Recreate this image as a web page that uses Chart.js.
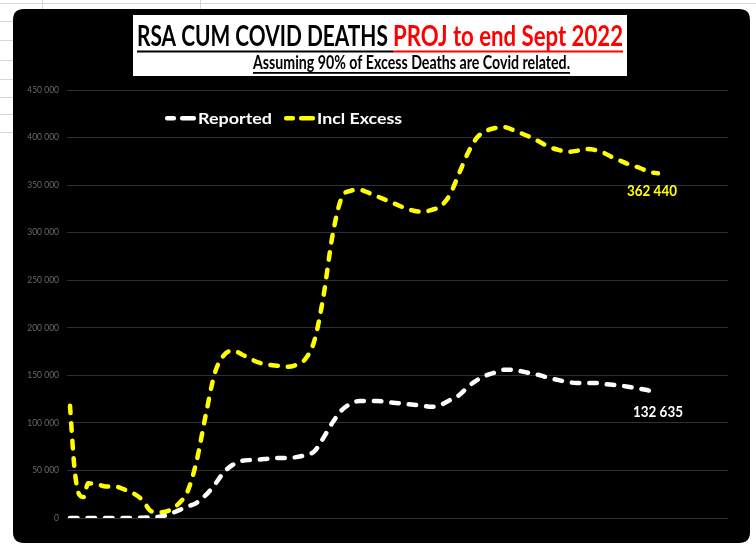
<!DOCTYPE html>
<html>
<head>
<meta charset="utf-8">
<style>
html,body{margin:0;padding:0;background:#fff;overflow:hidden}
canvas{display:block}
</style>
<script src="https://cdn.jsdelivr.net/npm/chart.js@4.4.1/dist/chart.umd.min.js"></script>
</head>
<body>
<div style="width:756px;height:545px;position:relative">
<canvas id="c" width="756" height="545"></canvas>
</div>
<script>
// ---- data (weeks since first point) ----
const weeks = [0,1,2,3,4,6,8,10,12,14,16,18,20,22,24,26,28,30,32,34,36,38,40,42,44,46,48,50,52,54,56,58,60,62,64,66,68,70,72,74,76,78,80,82,84,86,88,90,92,94,96,98,100,102,104,106,108,110,112,114,116,118,120,122,124,126,128,130];
const reported = [0,0,0,0,0,0,0,0,0,0,300,800,1500,4000,8000,12000,16000,24000,35000,48000,56000,60000,61000,61500,62500,63000,63000,64000,66000,70000,84000,100000,113000,120000,123000,123000,123000,122000,121000,120000,119000,118000,117000,119000,124000,129000,138000,145000,150000,153000,156000,156000,154000,152000,150000,147000,145000,143000,142000,142000,142000,141000,140000,139000,137500,136000,134000,132635];
const inclExcess = [118000,52000,25000,22000,36500,35500,33000,33000,30000,26000,19000,7000,6000,8000,15000,28000,60000,108000,152000,171000,176000,172000,167000,163000,161000,160000,159000,161000,167000,186000,232000,296000,336000,344000,345000,342000,338000,334000,330000,326000,323000,322000,324000,328000,340000,362000,384000,400000,407000,410000,411000,408000,404000,400000,395000,390000,387000,385000,386000,388000,387000,384000,379000,375000,371000,368000,364000,362440];
const yTicks = [0,50000,100000,150000,200000,250000,300000,350000,400000,450000];
const seriesNames = ['Reported','Incl Excess'];
const titleBlack = 'RSA CUM COVID DEATHS ';
const titleRed = 'PROJ to end Sept 2022';
const subtitle = 'Assuming 90% of Excess Deaths are Covid related.';

function fmt(v){ return String(Math.round(v)).replace(/\B(?=(\d{3})+(?!\d))/g,' '); }

function fitText(ctx, text, x, y, width, font, color){
  ctx.save();
  ctx.font = font;
  ctx.fillStyle = color;
  ctx.textAlign = 'left';
  ctx.textBaseline = 'alphabetic';
  const w = ctx.measureText(text).width;
  ctx.translate(x, y);
  ctx.scale(width / w, 1);
  ctx.fillText(text, 0, 0);
  ctx.restore();
}

function roundRect(ctx,x,y,w,h,r){
  ctx.beginPath();
  ctx.moveTo(x+r,y);
  ctx.lineTo(x+w-r,y); ctx.quadraticCurveTo(x+w,y,x+w,y+r);
  ctx.lineTo(x+w,y+h-r); ctx.quadraticCurveTo(x+w,y+h,x+w-r,y+h);
  ctx.lineTo(x+r,y+h); ctx.quadraticCurveTo(x,y+h,x,y+h-r);
  ctx.lineTo(x,y+r); ctx.quadraticCurveTo(x,y,x+r,y);
  ctx.closePath();
}

const bgPlugin = {
  id:'bg',
  beforeDraw(chart){
    const ctx = chart.ctx;
    ctx.save();
    ctx.fillStyle = '#ffffff';
    ctx.fillRect(0,0,chart.width,chart.height);
    // spreadsheet grid behind
    ctx.strokeStyle = '#d6d6d6';
    ctx.lineWidth = 1;
    ctx.beginPath();
    ctx.moveTo(0,3.5); ctx.lineTo(756,3.5);
    ctx.moveTo(42.5,0); ctx.lineTo(42.5,9);
    ctx.moveTo(200.5,0); ctx.lineTo(200.5,9);
    [21,40,60,79,97,114,132].forEach(y=>{ ctx.moveTo(0,y+0.5); ctx.lineTo(13,y+0.5); });
    ctx.stroke();
    // black chart panel
    ctx.fillStyle = '#000000';
    roundRect(ctx,13,9,737,534,11);
    ctx.fill();
    ctx.restore();
  }
};

const overlayPlugin = {
  id:'overlay',
  afterDraw(chart){
    const ctx = chart.ctx;
    ctx.save();
    // title box
    ctx.fillStyle = '#ffffff';
    ctx.fillRect(133,15,494,61);
    fitText(ctx, titleBlack, 137, 46, 256, 'bold 28px Lato', '#000000');
    fitText(ctx, titleRed, 393, 46, 230, 'bold 28px Lato', '#ff0000');
    ctx.fillStyle = '#000000';
    ctx.fillRect(137,50.5,256,2);
    ctx.fillStyle = '#ff0000';
    ctx.fillRect(393,50.5,230,2);
    fitText(ctx, subtitle, 253, 68.5, 317, 'bold 19.5px Lato', '#000000');
    ctx.fillStyle = '#000000';
    ctx.fillRect(253,72,317,1.8);

    // legend
    const ds = chart.data.datasets;
    const legendItems = [
      {m1:165, text:198, tw:74, color:ds[0].borderColor, name:ds[0].label},
      {m1:284, text:317, tw:85, color:ds[1].borderColor, name:ds[1].label}
    ];
    legendItems.forEach(it=>{
      ctx.fillStyle = it.color;
      ctx.beginPath(); roundRect(ctx,it.m1,116,11,4.5,2); ctx.fill();
      ctx.beginPath(); roundRect(ctx,it.m1+15,116,16,4.5,2); ctx.fill();
      fitText(ctx, it.name, it.text, 123.5, it.tw, 'bold 16px Lato', '#ffffff');
    });

    // end labels
    const labelOffsets = [{dx:0, dy:25, col:'#ffffff'}, {dx:-6, dy:23, col:'#ffff00'}];
    ds.forEach((d,i)=>{
      const meta = chart.getDatasetMeta(i);
      const p = meta.data[meta.data.length-1];
      const v = d.data[d.data.length-1].y;
      const txt = fmt(v);
      const tw = 50;
      fitText(ctx, txt, p.x + labelOffsets[i].dx - tw/2, p.y + labelOffsets[i].dy, tw, 'bold 14.5px Lato', labelOffsets[i].col);
    });
    ctx.restore();
  }
};

const toPts = arr => arr.map((v,i)=>({x:weeks[i], y:v}));

new Chart(document.getElementById('c'), {
  type:'line',
  data:{
    datasets:[
      {label:seriesNames[0], data:toPts(reported), borderColor:'#ffffff', borderWidth:4.5,
       borderDash:[7.5,10], borderCapStyle:'round', pointRadius:0, cubicInterpolationMode:'monotone', fill:false},
      {label:seriesNames[1], data:toPts(inclExcess), borderColor:'#ffff00', borderWidth:4.5,
       borderDash:[7.5,10], borderCapStyle:'round', pointRadius:0, cubicInterpolationMode:'monotone', fill:false}
    ]
  },
  options:{
    responsive:false,
    devicePixelRatio:1,
    animation:false,
    events:[],
    layout:{padding:{left:0, top:90, right:28, bottom:27}},
    plugins:{legend:{display:false}, tooltip:{enabled:false}, title:{display:false}},
    scales:{
      x:{type:'linear', min:-0.663, max:145.48, display:false},
      y:{
        min:0, max:450000,
        afterFit(s){ s.width = 67; },
        afterBuildTicks(s){ s.ticks = yTicks.map(v=>({value:v})); },
        ticks:{callback:v=>fmt(v), color:'#6a6a6a', padding:8, font:{family:'Lato', size:8.5}},
        grid:{color:'#303030', lineWidth:1, drawTicks:false},
        border:{display:false}
      }
    }
  },
  plugins:[bgPlugin, overlayPlugin]
});
</script>
</body>
</html>
